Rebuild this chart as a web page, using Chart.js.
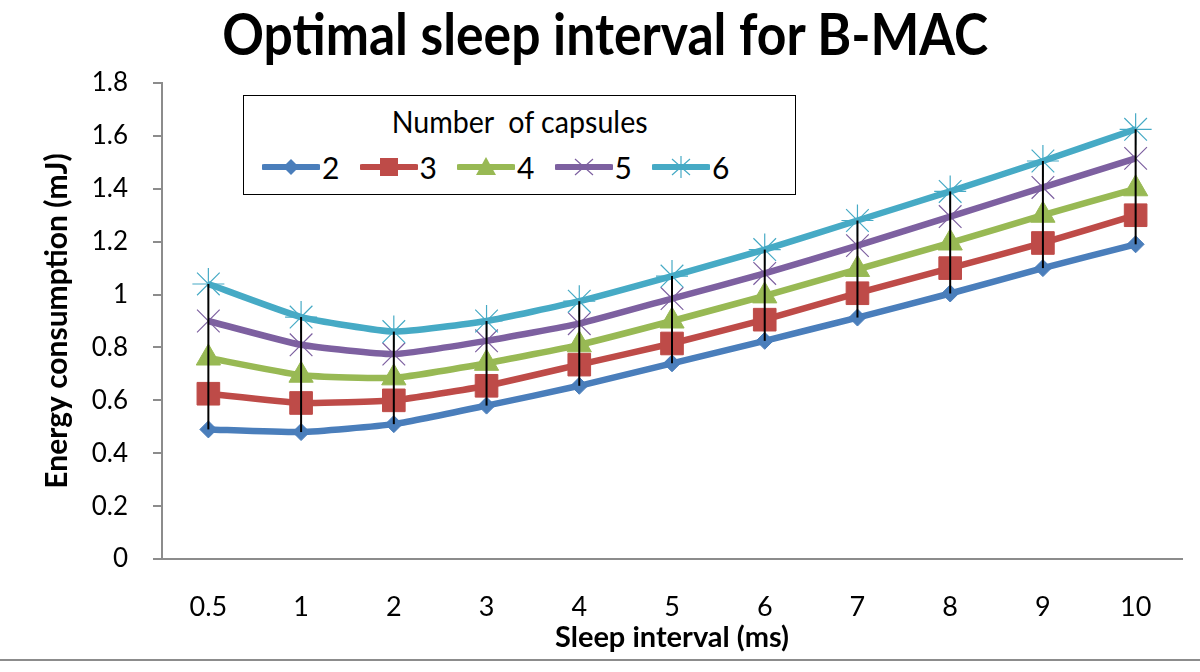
<!DOCTYPE html>
<html>
<head>
<meta charset="utf-8">
<script src="https://cdn.jsdelivr.net/npm/chart.js@4"></script>
<style>
  html, body { margin: 0; padding: 0; background: #fff; }
  #wrap { position: relative; width: 1200px; height: 672px; overflow: hidden; }
  #chart { position: absolute; left: 0; top: 0; }
  #title {
    position: absolute; left: 0; top: 4px; width: 1210px; text-align: center;
    font: bold 58px Lato, sans-serif; line-height: 58px; color: #000; white-space: nowrap;
  }
  #title span, #legend .head span { display: inline-block; transform-origin: center center; }
  #frame { position: absolute; left: 0; top: 659px; width: 1200px; border-top: 2px solid #8c8c8c; }
  #legend {
    position: absolute; left: 243px; top: 95px; width: 551px; height: 98px;
    border: 1.5px solid #000; background: #fff;
    font-family: Lato, sans-serif; color: #000;
  }
  #legend .head { position: absolute; left: 0; top: 6px; width: 100%; text-align: center;
    font-size: 31px; line-height: 38px; white-space: pre; }
  #legend .items { position: absolute; left: 18px; top: 53px; height: 36px; white-space: nowrap; }
  #legend .item { position: absolute; top: 0; height: 36px; }
  #legend .item svg { position: absolute; left: 0; top: 6px; }
  #legend .item b { position: absolute; left: 60px; top: 0; font-weight: normal; font-size: 30px; line-height: 36px; }
</style>
</head>
<body>
<div id="wrap">
  <canvas id="chart" width="1200" height="672"></canvas>
  <div id="title"><span>Optimal sleep interval for B-MAC</span></div>
  <div id="legend">
    <div class="head"><span>Number  of capsules</span></div>
    <div class="items" id="legendItems"></div>
  </div>
  <div id="frame"></div>
</div>
<script>
// sleep interval categories (ms)
const sleepIntervals = ["0.5", "1", "2", "3", "4", "5", "6", "7", "8", "9", "10"];

// energy consumption (mJ) per number of capsules
const capsules2 = [0.49, 0.48, 0.51, 0.58, 0.655, 0.74, 0.825, 0.913, 1.004, 1.10, 1.19];
const capsules3 = [0.625, 0.59, 0.60, 0.655, 0.735, 0.815, 0.905, 1.005, 1.10, 1.195, 1.30];
const capsules4 = [0.76, 0.695, 0.685, 0.74, 0.81, 0.90, 0.995, 1.095, 1.195, 1.30, 1.40];
const capsules5 = [0.90, 0.81, 0.775, 0.825, 0.89, 0.985, 1.08, 1.185, 1.295, 1.405, 1.515];
const capsules6 = [1.04, 0.915, 0.86, 0.90, 0.975, 1.07, 1.17, 1.28, 1.39, 1.505, 1.625];

const seriesNames = ["2", "3", "4", "5", "6"];
const seriesData = [capsules2, capsules3, capsules4, capsules5, capsules6];
const colors = ["#4a7ebb", "#be4b48", "#98b954", "#7d60a0", "#46aac5"];
const pointStyles = ["rectRot", "rect", "triangle", "crossRot", "star"];
const pointRadius = [8.5, 16, 14, 16, 16];

const FONT = "Lato, 'Open Sans', sans-serif";

// black high-low lines between the lowest and highest series
const highLowLines = {
  id: "highLowLines",
  afterDatasetsDraw(chart) {
    const { ctx, scales } = chart;
    ctx.save();
    ctx.strokeStyle = "#000";
    ctx.lineWidth = 2;
    sleepIntervals.forEach((_, i) => {
      const vals = seriesData.map(s => s[i]);
      const x = scales.x.getPixelForValue(i);
      ctx.beginPath();
      ctx.moveTo(x, scales.y.getPixelForValue(Math.min(...vals)));
      ctx.lineTo(x, scales.y.getPixelForValue(Math.max(...vals)));
      ctx.stroke();
    });
    ctx.restore();
  }
};

new Chart(document.getElementById("chart"), {
  type: "line",
  data: {
    labels: sleepIntervals,
    datasets: seriesNames.map((name, i) => ({
      label: name,
      data: seriesData[i],
      borderColor: colors[i],
      backgroundColor: colors[i],
      borderWidth: 6.5,
      pointStyle: pointStyles[i],
      pointRadius: pointRadius[i],
      pointBorderWidth: i >= 3 ? 1.2 : 1,
      pointBorderColor: colors[i],
      pointBackgroundColor: colors[i],
      tension: 0.15,
      order: 5 - i
    }))
  },
  options: {
    responsive: false,
    animation: false,
    events: [],
    layout: { padding: { left: 0, right: 18, top: 83, bottom: 12 } },
    plugins: {
      legend: { display: false },
      title: { display: false },
      tooltip: { enabled: false }
    },
    scales: {
      x: {
        offset: true,
        grid: { display: false, drawTicks: false },
        border: { display: true, color: "#8c8c8c", width: 2 },
        ticks: { color: "#000", font: { family: FONT, size: 27 }, padding: 32, maxRotation: 0 },
        title: {
          display: true, text: "Sleep interval (ms)", color: "#000",
          font: { family: FONT, size: 29, weight: "bold" }, padding: { top: 0, bottom: 5 }
        },
        afterFit(scale) { scale.height = 101; }
      },
      y: {
        min: 0, max: 1.8,
        grid: { display: true, drawOnChartArea: false, drawTicks: true, tickLength: 9, color: "#8c8c8c", lineWidth: 2 },
        border: { display: true, color: "#8c8c8c", width: 2 },
        ticks: {
          stepSize: 0.2, color: "#000", font: { family: FONT, size: 26 }, padding: 25,
          callback: v => String(Math.round(v * 10) / 10)
        },
        title: {
          display: true, text: "Energy consumption (mJ)", color: "#000",
          font: { family: FONT, size: 30, weight: "bold" }, padding: { top: 39, bottom: 0 }
        },
        afterFit(scale) { scale.width = 162; }
      }
    }
  },
  plugins: [highLowLines]
});

// legend entries: line with marker, then the label
function markerSvg(i) {
  const c = colors[i], cx = 29, cy = 12;
  let m = "";
  if (i === 0) m = `<polygon points="${cx},${cy-8} ${cx+8},${cy} ${cx},${cy+8} ${cx-8},${cy}" fill="${c}"/>`;
  if (i === 1) m = `<rect x="${cx-9}" y="${cy-9}" width="18" height="18" fill="${c}"/>`;
  if (i === 2) m = `<polygon points="${cx},${cy-10} ${cx+10},${cy+8} ${cx-10},${cy+8}" fill="${c}"/>`;
  if (i === 3) m = `<path d="M${cx-9} ${cy-8}L${cx+9} ${cy+8}M${cx+9} ${cy-8}L${cx-9} ${cy+8}" stroke="${c}" stroke-width="1.2"/>`;
  if (i === 4) m = `<path d="M${cx-9} ${cy-8}L${cx+9} ${cy+8}M${cx+9} ${cy-8}L${cx-9} ${cy+8}M${cx} ${cy-11}L${cx} ${cy+11}" stroke="${c}" stroke-width="1.2"/>`;
  return `<svg width="58" height="24"><line x1="2" y1="12" x2="56" y2="12" stroke="${c}" stroke-width="6" stroke-linecap="round"/>${m}</svg>`;
}
const itemsEl = document.getElementById("legendItems");
seriesNames.forEach((name, i) => {
  const d = document.createElement("div");
  d.className = "item";
  d.style.left = (i * 97.5) + "px";
  d.innerHTML = markerSvg(i) + "<b>" + name + "</b>";
  itemsEl.appendChild(d);
});

// squeeze text to the widths used in the picture
function fitWidth(span, target) {
  const w = span.getBoundingClientRect().width;
  if (w > 0) span.style.transform = "scaleX(" + (target / w) + ")";
}
fitWidth(document.querySelector("#title span"), 766);
fitWidth(document.querySelector("#legend .head span"), 256);
</script>
</body>
</html>
